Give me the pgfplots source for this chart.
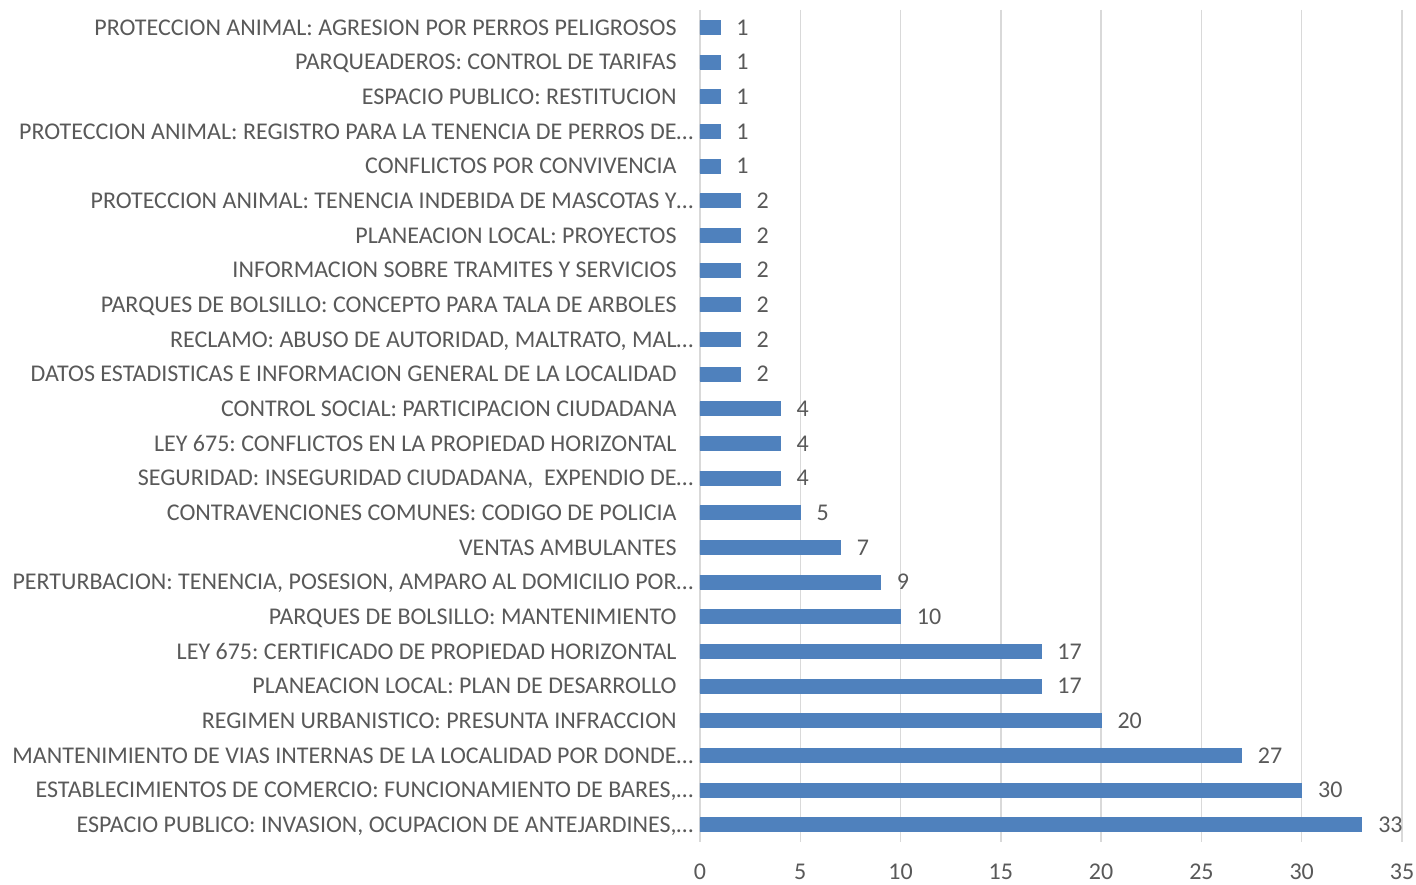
\documentclass[border=0pt]{standalone}
\usepackage{pgfplots}
\pgfplotsset{compat=1.18}
\usepackage{fontspec}
\setmainfont{Carlito}
\frenchspacing
\definecolor{barblue}{HTML}{4F81BD}
\definecolor{txtgray}{HTML}{595959}
\definecolor{gridgray}{HTML}{D9D9D9}
\newcommand{\tr}{\rlap{…}}
\begin{document}
\begin{tikzpicture}
\begin{axis}[
  xbar,
  scale only axis,
  width=351pt, height=416pt,
  xmin=0, xmax=35, ymin=-0.5, ymax=23.5,
  y dir=reverse,
  bar width=0.4,
  xtick={0,5,...,35},
  ytick={0,...,23},
  yticklabels={
    {PROTECCION ANIMAL: AGRESION POR PERROS PELIGROSOS},
    {PARQUEADEROS: CONTROL DE TARIFAS},
    {ESPACIO PUBLICO: RESTITUCION},
    {PROTECCION ANIMAL: REGISTRO PARA LA TENENCIA DE PERROS DE\tr},
    {CONFLICTOS POR CONVIVENCIA},
    {PROTECCION ANIMAL: TENENCIA INDEBIDA DE MASCOTAS Y\tr},
    {PLANEACION LOCAL: PROYECTOS},
    {INFORMACION SOBRE TRAMITES Y SERVICIOS},
    {PARQUES DE BOLSILLO: CONCEPTO PARA TALA DE ARBOLES},
    {RECLAMO: ABUSO DE AUTORIDAD, MALTRATO, MAL\tr},
    {DATOS ESTADISTICAS E INFORMACION GENERAL DE LA LOCALIDAD},
    {CONTROL SOCIAL: PARTICIPACION CIUDADANA},
    {LEY 675: CONFLICTOS EN LA PROPIEDAD HORIZONTAL},
    {SEGURIDAD: INSEGURIDAD CIUDADANA,\ \ EXPENDIO DE\tr},
    {CONTRAVENCIONES COMUNES: CODIGO DE POLICIA},
    {VENTAS AMBULANTES},
    {PERTURBACION: TENENCIA, POSESION, AMPARO AL DOMICILIO POR\tr},
    {PARQUES DE BOLSILLO: MANTENIMIENTO},
    {LEY 675: CERTIFICADO DE PROPIEDAD HORIZONTAL},
    {PLANEACION LOCAL: PLAN DE DESARROLLO},
    {REGIMEN URBANISTICO: PRESUNTA INFRACCION},
    {MANTENIMIENTO DE VIAS INTERNAS DE LA LOCALIDAD POR DONDE\tr},
    {ESTABLECIMIENTOS DE COMERCIO: FUNCIONAMIENTO DE BARES,\tr},
    {ESPACIO PUBLICO: INVASION, OCUPACION DE ANTEJARDINES,\tr}
  },
  axis line style={draw=none},
  major tick length=0pt,
  xmajorgrids,
  grid style={gridgray, line width=0.75pt},
  tick label style={font=\fontsize{12}{14}\selectfont\frenchspacing, text=txtgray},
  /pgf/number format/assume math mode=true,
  yticklabel style={anchor=base east, xshift=-11.5pt, yshift=-3.9pt, inner sep=0pt},
  xticklabel style={anchor=base, yshift=-18.5pt, inner sep=0pt},
  nodes near coords,
  nodes near coords style={font=\fontsize{12}{14}\selectfont, text=txtgray, anchor=base west, xshift=8pt, yshift=-3.9pt, inner sep=0pt},
  clip=false,
]
\addplot[draw=barblue, fill=barblue] table[x=v, y=i] {
i v
0 1
1 1
2 1
3 1
4 1
5 2
6 2
7 2
8 2
9 2
10 2
11 4
12 4
13 4
14 5
15 7
16 9
17 10
18 17
19 17
20 20
21 27
22 30
23 33
};
\end{axis}
\path (current axis.north west) ++(-350pt,5pt) coordinate (tl);
\path (current axis.south east) ++(7pt,-21.5pt) coordinate (br);
\path (tl) (br);
\end{tikzpicture}
\end{document}
